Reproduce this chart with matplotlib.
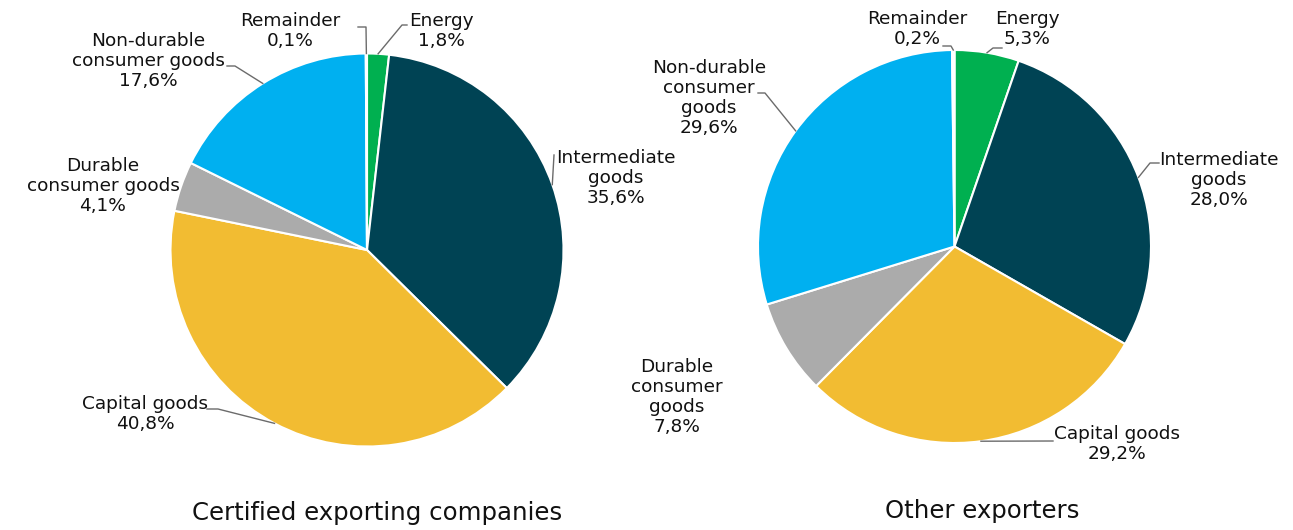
import numpy as np
import matplotlib.pyplot as plt

# slices, clockwise from 12 o'clock
categories = ['Energy', 'Intermediate goods', 'Capital goods',
              'Durable consumer goods', 'Non-durable consumer goods', 'Remainder']
certified = [1.8, 35.6, 40.8, 4.1, 17.6, 0.1]
others = [5.3, 28.0, 29.2, 7.8, 29.6, 0.2]
colors = ['#00B050', '#004354', '#F2BC32', '#ABABAB', '#00B0F0', '#FFFFFF']

# label text as wrapped in each pie
left_names = ['Energy', 'Intermediate\ngoods', 'Capital goods',
              'Durable\nconsumer goods', 'Non-durable\nconsumer goods', 'Remainder']
right_names = ['Energy', 'Intermediate\ngoods', 'Capital goods',
               'Durable\nconsumer\ngoods', 'Non-durable\nconsumer\ngoods', 'Remainder']

W, H = 1293, 530

# pie geometry in pixels (y from top)
pies = [
    dict(vals=certified, names=left_names, center=(367, 250), r=196.5,
         title='Certified exporting companies', title_xy=(377, 513),
         text_xy=[(441, 31), (616, 178), (145, 414), (103, 186), (148, 61), (290, 31)],
         leader=[[(407, 25), (402, 25)], [(554, 155)], [(207, 409), (218, 409)],
                 None, [(227, 66), (235, 66)], [(358, 27), (366, 27)]]),
    dict(vals=others, names=right_names, center=(954.5, 246.5), r=196.5,
         title='Other exporters', title_xy=(982, 511),
         text_xy=[(1027, 29), (1219, 180), (1117, 444), (677, 397), (709, 98), (917, 29)],
         leader=[[(1159, 163), (1150, 163)], [(1159, 163)], [(1053, 441)],
                 None, [(758, 93), (765, 93)], [(943, 46), (951, 46)]]),
]
# energy leader on the right pie
pies[1]['leader'][0] = [(1002, 48), (993, 48)]
pies[1]['leader'][1] = [(1159, 163), (1150, 163)]

fig = plt.figure(figsize=(W / 100, H / 100), dpi=100)
ax = fig.add_axes([0, 0, 1, 1])

for p in pies:
    cx, cy = p['center']
    wedges, _ = ax.pie(p['vals'], colors=colors, startangle=90, counterclock=False,
                       center=(cx, H - cy), radius=p['r'],
                       wedgeprops=dict(edgecolor='white', linewidth=1.5))
    for i, w in enumerate(wedges):
        v = p['vals'][i]
        tx, ty = p['text_xy'][i]
        label = p['names'][i] + '\n' + f'{v:.1f}'.replace('.', ',') + '%'
        ax.text(tx, H - ty, label, ha='center', va='center', fontsize=13.3,
                multialignment='center', color='#111111', linespacing=1.14)
        if p['leader'][i] is not None:
            mid = np.deg2rad((w.theta1 + w.theta2) / 2)
            ax_pt = (cx + p['r'] * np.cos(mid), H - cy + p['r'] * np.sin(mid))
            xs = [q[0] for q in p['leader'][i]] + [ax_pt[0]]
            ys = [H - q[1] for q in p['leader'][i]] + [ax_pt[1]]
            ax.plot(xs, ys, color='#6b6b6b', lw=1)
    tx, ty = p['title_xy']
    ax.text(tx, H - ty, p['title'], ha='center', va='center', fontsize=17.6, color='#111111')

ax.set_xlim(0, W)
ax.set_ylim(0, H)
ax.set_aspect('auto')
ax.axis('off')

fig.savefig('out.png', dpi=100)
